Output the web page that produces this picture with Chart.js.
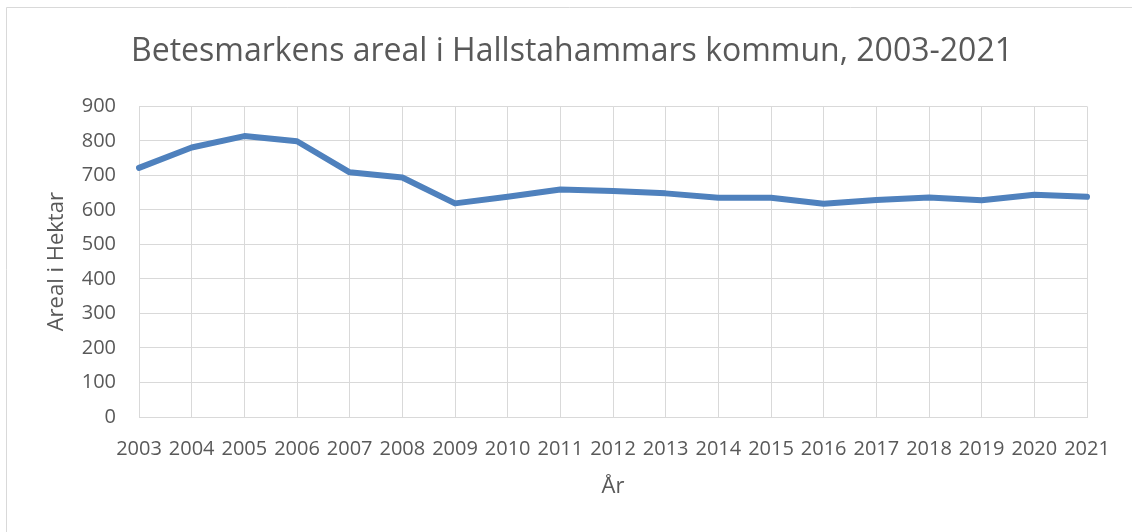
<!DOCTYPE html>
<html>
<head>
<meta charset="utf-8">
<script src="https://cdn.jsdelivr.net/npm/chart.js@4"></script>
<style>
  html, body { margin: 0; padding: 0; background: #fff; overflow: hidden; }
  #wrap { position: absolute; left: 0; top: 0; width: 1132px; height: 532px; }
</style>
</head>
<body>
<div id="wrap"><canvas id="betesChart" width="1132" height="532"></canvas></div>
<script>
// --- Data ---
const years = ['2003', '2004', '2005', '2006', '2007', '2008', '2009', '2010', '2011', '2012',
               '2013', '2014', '2015', '2016', '2017', '2018', '2019', '2020', '2021'];
const arealHektar = [722, 781, 814, 799, 709, 694, 619, 638, 659, 655,
                     648, 635, 635, 618, 629, 636, 628, 644, 638];
const yTicks = [0, 100, 200, 300, 400, 500, 600, 700, 800, 900];

const textColor = '#595959';
const gridColor = '#d9d9d9';
const fontFamily = '"Open Sans", "Liberation Sans", sans-serif';

// --- frame around the chart (cropped on right / bottom like the original) ---
const framePlugin = {
    id: 'frame',
    beforeDraw(chart) {
        const ctx = chart.ctx;
        ctx.save();
        ctx.fillStyle = '#ffffff';
        ctx.fillRect(0, 0, chart.width, chart.height);
        ctx.strokeStyle = gridColor;
        ctx.lineWidth = 1;
        ctx.beginPath();
        ctx.moveTo(6.5, chart.height);
        ctx.lineTo(6.5, 7.5);
        ctx.lineTo(chart.width, 7.5);
        ctx.stroke();
        ctx.restore();
    }
};

new Chart(document.getElementById('betesChart').getContext('2d'), {
    type: 'line',
    data: {
        labels: years,
        datasets: [{
            label: 'Areal',
            data: arealHektar,
            borderColor: '#4f81bd',
            borderWidth: 6,
            pointRadius: 0,
            tension: 0,
            fill: false,
            borderJoinStyle: 'round',
            borderCapStyle: 'round'
        }]
    },
    options: {
        responsive: false,
        animation: false,
        devicePixelRatio: 1,
        layout: { padding: { left: 12, right: 0, top: 7, bottom: 28 } },
        plugins: {
            legend: { display: false },
            tooltip: { enabled: false },
            title: {
                display: true,
                text: 'Betesmarkens areal i Hallstahammars kommun, 2003-2021',
                color: textColor,
                font: { family: fontFamily, size: 32, weight: 'normal' },
                padding: { top: 26, bottom: 35 }
            }
        },
        scales: {
            x: {
                offset: false,
                grid: { color: gridColor, drawTicks: false },
                border: { color: gridColor },
                ticks: {
                    color: textColor,
                    font: { family: fontFamily, size: 20 },
                    padding: 20,
                    maxRotation: 0,
                    autoSkip: false
                },
                title: {
                    display: true,
                    text: 'År',
                    color: textColor,
                    font: { family: fontFamily, size: 22 },
                    padding: { top: 4, bottom: 4 }
                },
                afterFit(scale) { scale.height = 87; }
            },
            y: {
                min: 0,
                max: 900,
                afterBuildTicks(scale) { scale.ticks = yTicks.map(v => ({ value: v })); },
                grid: { color: gridColor, drawTicks: false },
                border: { color: gridColor },
                ticks: {
                    color: textColor,
                    font: { family: fontFamily, size: 20 },
                    padding: 23
                },
                title: {
                    display: true,
                    text: 'Areal i Hektar',
                    color: textColor,
                    font: { family: fontFamily, size: 22 },
                    padding: { top: 32, bottom: 0 }
                },
                afterFit(scale) { scale.width = 127; }
            },
            // empty right-hand spacer so the title stays centred on the whole frame
            spacer: {
                type: 'linear',
                position: 'right',
                grid: { display: false },
                border: { display: false },
                ticks: { display: false },
                afterFit(scale) { scale.width = 45; }
            }
        }
    },
    plugins: [framePlugin]
});
</script>
</body>
</html>
